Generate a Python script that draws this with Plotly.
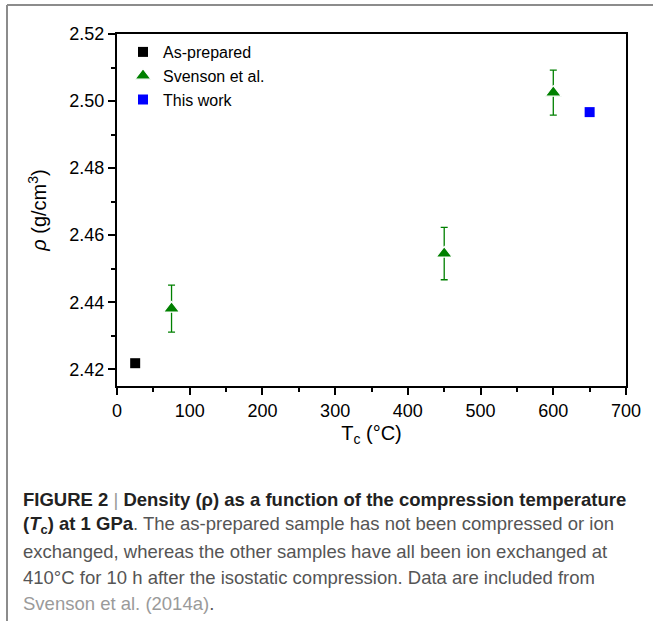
import plotly.graph_objects as go

# ---- data ----
asprep_x = [25]
asprep_y = [2.4218]
svenson_x = [75, 450, 600]
svenson_y = [2.4381, 2.4545, 2.5025]
svenson_err = [0.0070, 0.0078, 0.0067]
thiswork_x = [650]
thiswork_y = [2.4967]

x_ticks = [0, 100, 200, 300, 400, 500, 600, 700]
y_ticks = [2.42, 2.44, 2.46, 2.48, 2.50, 2.52]

B1 = "<span style='color:#222222'><b>"
B2 = "</b></span>"
caption_lines = [
    B1 + "FIGURE 2" + B2 + " <span style='color:#999'>|</span> " + B1 + "Density (ρ) as a function of the compression temperature" + B2,
    B1 + "(<i>T</i><sub>c</sub>) at 1 GPa" + B2 + ". The as-prepared sample has not been compressed or ion",
    "exchanged, whereas the other samples have all been ion exchanged at",
    "410°C for 10 h after the isostatic compression. Data are included from",
    "<span style='color:#9a9a9a'>Svenson et al. (2014a)</span>.",
]

W, H = 653, 621
L, R, T, B = 117, 27, 34, 235
pw, ph = W - L - R, H - T - B

def px(x):
    return (x - L) / pw

def py(y):
    return (H - B - y) / ph

FONT = "Liberation Sans, Arial, sans-serif"

fig = go.Figure()
fig.add_trace(go.Scatter(
    x=asprep_x, y=asprep_y, mode="markers", name="As-prepared",
    marker=dict(symbol="square", size=10, color="black"),
))
fig.add_trace(go.Scatter(
    x=svenson_x, y=svenson_y, mode="markers", name="Svenson et al.",
    marker=dict(symbol="triangle-up", size=14, color="#008000",
                line=dict(color="white", width=1.2)),
    error_y=dict(type="data", array=svenson_err, visible=True,
                 color="#008000", thickness=1.3, width=3.5),
))
fig.add_trace(go.Scatter(
    x=thiswork_x, y=thiswork_y, mode="markers", name="This work",
    marker=dict(symbol="square", size=10, color="#0000ff"),
))

axis_common = dict(
    showline=True, linecolor="black", linewidth=2, mirror=True,
    ticks="outside", ticklen=7, tickwidth=1.5, tickcolor="black",
    showgrid=False, zeroline=False,
    tickfont=dict(family=FONT, size=18, color="black"),
)

fig.update_xaxes(
    range=[0, 700], tickvals=x_ticks, ticktext=[str(v) for v in x_ticks],
    minor=dict(ticks="outside", ticklen=4, tickwidth=1.5, tickcolor="black", dtick=50, tick0=0),
    title=dict(text="T<sub>c</sub> (°C)", font=dict(family=FONT, size=20, color="black"), standoff=6),
    **axis_common,
)
fig.update_yaxes(
    range=[2.415, 2.52], tickvals=y_ticks, ticktext=[f"{v:.2f}" for v in y_ticks],
    minor=dict(ticks="outside", ticklen=4, tickwidth=1.5, tickcolor="black", dtick=0.01, tick0=2.42),
    title=dict(text="<i>ρ</i> (g/cm<sup>3</sup>)", font=dict(family=FONT, size=20, color="black"), standoff=17),
    **axis_common,
)

annotations = []
line_y = [499, 525, 551, 577, 603]
for txt, yy in zip(caption_lines, line_y):
    annotations.append(dict(
        text=txt, xref="paper", yref="paper", x=px(21), y=py(yy),
        xanchor="left", yanchor="middle", showarrow=False,
        font=dict(family=FONT, size=18.5, color="#555555"),
    ))

shapes = [
    dict(type="line", xref="paper", yref="paper", x0=px(7), x1=px(660), y0=py(5), y1=py(5),
         line=dict(color="#8c8c8c", width=2)),
    dict(type="line", xref="paper", yref="paper", x0=px(7), x1=px(7), y0=py(5), y1=py(640),
         line=dict(color="#8c8c8c", width=2)),
]

fig.update_layout(
    width=W, height=H,
    margin=dict(l=L, r=R, t=T, b=B, autoexpand=False),
    paper_bgcolor="white", plot_bgcolor="white",
    showlegend=True,
    legend=dict(x=px(123), y=py(35), xanchor="left", yanchor="top",
                bgcolor="rgba(0,0,0,0)", borderwidth=0,
                font=dict(family=FONT, size=16, color="black"),
                itemsizing="trace", tracegroupgap=0),
    annotations=annotations, shapes=shapes,
)

fig.write_html("out.html", config={"displayModeBar": False},
               post_script="document.body.style.margin='0';document.body.style.overflow='hidden';")
